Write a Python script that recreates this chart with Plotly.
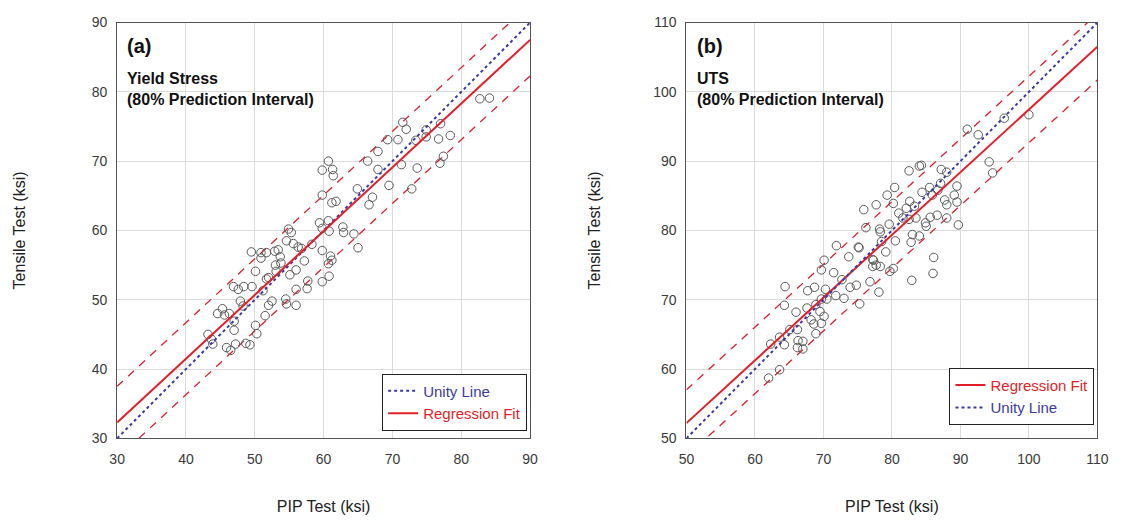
import plotly.graph_objects as go

# ---------------- data ----------------
# Panel (a): Yield Stress
ys_pip = [82.7, 84.1, 71.5, 72.0, 69.3, 70.8, 73.4, 74.9, 74.9, 77.0, 76.7, 78.4, 77.4, 76.9,
          71.3, 73.6, 69.5, 72.8, 60.7, 59.8, 61.3, 61.4, 66.4, 67.9, 67.9, 64.9, 59.8, 61.2,
          61.8, 67.1, 66.6, 59.4, 60.7, 59.8, 60.8, 62.8, 62.9, 64.4, 65.0, 54.9, 55.3, 54.6,
          55.6, 56.3, 56.8, 59.8, 61.0, 61.2, 60.7, 60.8, 59.8, 57.2, 56.0, 55.1, 57.7, 57.6,
          56.0, 54.5, 56.0, 54.6, 49.5, 50.9, 51.7, 50.9, 53.4, 53.7, 53.8, 50.1, 53.1, 51.7,
          52.0, 46.9, 47.6, 48.4, 49.6, 51.2, 47.9, 52.0, 52.5, 45.3, 44.6, 45.6, 46.3, 48.3,
          51.5, 47.0, 47.0, 50.1, 50.3, 43.2, 43.7, 43.9, 45.9, 46.5, 47.2, 48.7, 49.3, 52.9,
          58.3, 53.0]
ys_tens = [79.0, 79.1, 75.6, 74.6, 73.1, 73.1, 73.0, 74.5, 73.5, 75.4, 73.2, 73.7, 70.7, 69.7,
           69.5, 69.0, 66.5, 66.0, 70.0, 68.7, 68.8, 67.9, 70.0, 71.4, 68.8, 66.0, 65.1, 64.0,
           64.2, 64.8, 63.7, 61.1, 61.4, 60.3, 59.9, 60.5, 59.7, 59.5, 57.5, 60.2, 59.7, 58.5,
           58.1, 57.6, 57.4, 57.1, 56.3, 55.7, 55.2, 53.4, 52.6, 55.6, 54.3, 53.6, 52.7, 51.6,
           51.5, 50.1, 49.2, 49.4, 56.9, 56.8, 56.8, 56.0, 57.2, 56.2, 55.3, 54.1, 54.1, 53.0,
           53.2, 51.9, 51.5, 51.9, 51.9, 51.3, 49.8, 49.2, 49.8, 48.7, 48.0, 47.8, 48.0, 49.1,
           47.7, 46.9, 45.6, 46.3, 45.1, 45.0, 44.3, 43.6, 43.1, 42.7, 43.6, 43.7, 43.5, 57.0,
           58.0, 55.0]

# Panel (b): UTS
uts_pip = [100.0, 96.4, 91.0, 92.6, 94.2, 94.7, 84.0, 84.3, 82.5, 87.2, 88.0, 80.4, 79.3, 77.7,
           75.9, 80.2, 82.6, 84.4, 85.5, 86.7, 89.5, 89.1, 87.7, 88.0, 89.5, 85.9, 82.1, 81.6,
           82.5, 83.5, 84.9, 85.6, 86.6, 88.0, 89.7, 85.0, 79.6, 78.2, 76.2, 83.0, 84.0, 82.8,
           80.5, 78.5, 75.1, 71.9, 73.7, 70.1, 77.3, 79.1, 86.1, 86.0, 82.9, 78.3, 75.2, 77.2,
           77.7, 77.2, 78.3, 79.7, 80.2, 76.8, 78.1, 69.7, 71.5, 72.7, 68.7, 67.7, 70.3, 69.7,
           70.5, 71.8, 73.0, 73.9, 74.8, 75.3, 64.4, 64.3, 66.0, 67.6, 68.9, 69.5, 70.1, 68.2,
           68.6, 69.7, 68.9, 66.2, 65.1, 63.6, 64.3, 62.3, 66.3, 67.0, 66.2, 67.0, 63.6, 62.0,
           81.0, 83.3, 87.1]
uts_tens = [96.7, 96.2, 94.6, 93.8, 89.9, 88.3, 89.3, 89.4, 88.6, 88.8, 88.4, 86.2, 85.1, 83.7,
            83.0, 83.9, 84.2, 85.5, 86.2, 85.8, 86.4, 85.1, 84.4, 83.7, 84.1, 85.1, 83.2, 81.8,
            81.6, 81.8, 81.1, 81.9, 82.2, 81.8, 80.8, 80.6, 80.9, 80.2, 80.4, 79.4, 79.2, 78.3,
            78.5, 78.4, 77.6, 77.8, 76.2, 75.7, 75.7, 76.9, 76.1, 73.8, 72.8, 79.8, 77.5, 75.8,
            75.0, 74.8, 74.8, 74.1, 74.5, 72.6, 71.1, 74.3, 73.9, 72.9, 71.8, 71.3, 71.5, 70.1,
            70.1, 70.6, 70.2, 71.8, 72.1, 69.4, 71.9, 69.2, 68.2, 68.8, 69.3, 68.3, 67.6, 67.1,
            66.5, 66.6, 65.1, 65.7, 65.7, 64.6, 63.5, 63.6, 64.1, 64.0, 63.1, 62.9, 59.9, 58.7,
            82.5, 83.5, 86.8]

# fitted lines (intercept, slope, 80% prediction half-width)
ys_range = [30, 90]
ys_fit = (4.7, 0.92, 5.2)
uts_range = [50, 110]
uts_fit = (6.95, 0.905, 4.8)

tick_a = [30, 40, 50, 60, 70, 80, 90]
tick_b = [50, 60, 70, 80, 90, 100, 110]

# ---------------- figure ----------------
RED = "#e61e28"
BLUE = "#3b3ba6"
FONT = "Arial, Liberation Sans, sans-serif"
W, H = 1133, 520

fig = go.Figure()


def add_panel(xs, ys, rng, fit, xa, ya, leg, order):
    b0, b1, hw = fit
    lx = [rng[0], rng[1]]
    reg = [b0 + b1 * v for v in lx]
    up = [r + hw for r in reg]
    lo = [r - hw for r in reg]
    for band in (up, lo):
        fig.add_trace(go.Scatter(x=lx, y=band, mode="lines", xaxis=xa, yaxis=ya,
                                 line=dict(color=RED, width=1.3, dash="8px,7px"),
                                 showlegend=False, hoverinfo="skip"))
    fig.add_trace(go.Scatter(x=xs, y=ys, mode="markers", xaxis=xa, yaxis=ya,
                             marker=dict(symbol="circle-open", size=8.5,
                                         color="#5a5a5a", line=dict(width=1)),
                             showlegend=False))
    unity = go.Scatter(x=lx, y=lx, mode="lines", xaxis=xa, yaxis=ya, legend=leg,
                       name="<span style='color:%s'>Unity Line</span>" % BLUE,
                       line=dict(color=BLUE, width=2, dash="dot"))
    regr = go.Scatter(x=lx, y=reg, mode="lines", xaxis=xa, yaxis=ya, legend=leg,
                      name="<span style='color:%s'>Regression Fit</span>" % RED,
                      line=dict(color=RED, width=2))
    for t in (order == "unity" and (unity, regr) or (regr, unity)):
        fig.add_trace(t)


add_panel(ys_pip, ys_tens, ys_range, ys_fit, "x", "y", "legend", "unity")
add_panel(uts_pip, uts_tens, uts_range, uts_fit, "x2", "y2", "legend2", "reg")

ydom = [1 - 444 / H, 1 - 15 / H]
axis_common = dict(showgrid=True, gridcolor="#dcdcdc", gridwidth=1,
                   showline=True, linecolor="#555555", linewidth=1, mirror=True,
                   zeroline=False, ticks="", tickfont=dict(size=14, color="#3a3a3a", family=FONT),
                   title_font=dict(size=16, color="#222222", family=FONT))

fig.update_layout(
    width=W, height=H,
    margin=dict(l=0, r=0, t=0, b=0),
    paper_bgcolor="white", plot_bgcolor="white",
    font=dict(family=FONT),
    xaxis=dict(domain=[111 / W, 531 / W], range=ys_range, tickvals=tick_a, ticklabelstandoff=8,
               title=dict(text="PIP Test (ksi)", standoff=34), anchor="y", **axis_common),
    yaxis=dict(domain=ydom, range=ys_range, tickvals=tick_a, ticklabelstandoff=6,
               title=dict(text="Tensile Test (ksi)", standoff=62), anchor="x", **axis_common),
    xaxis2=dict(domain=[690 / W, 1108 / W], range=uts_range, tickvals=tick_b, ticklabelstandoff=8,
                title=dict(text="PIP Test (ksi)", standoff=34), anchor="y2", **axis_common),
    yaxis2=dict(domain=ydom, range=uts_range, tickvals=tick_b, ticklabelstandoff=6,
                title=dict(text="Tensile Test (ksi)", standoff=48), anchor="x2", **axis_common),
    legend=dict(x=528 / W, y=1 - 436 / H, xanchor="right", yanchor="bottom",
                bgcolor="white", bordercolor="#222222", borderwidth=1,
                font=dict(size=15, family=FONT), tracegroupgap=4),
    legend2=dict(x=1105 / W, y=1 - 430 / H, xanchor="right", yanchor="bottom",
                 bgcolor="white", bordercolor="#222222", borderwidth=1,
                 font=dict(size=15, family=FONT), tracegroupgap=4),
)

labels = [("x domain", "y domain", "<b>(a)</b>", 0.975, 20),
          ("x domain", "y domain", "<b>Yield Stress<br>(80% Prediction Interval)</b>", 0.89, 16),
          ("x2 domain", "y2 domain", "<b>(b)</b>", 0.975, 20),
          ("x2 domain", "y2 domain", "<b>UTS<br>(80% Prediction Interval)</b>", 0.89, 16)]
for xr, yr, txt, yy, fs in labels:
    fig.add_annotation(xref=xr, yref=yr, x=0.02, y=yy, text=txt, showarrow=False,
                       xanchor="left", yanchor="top", align="left",
                       font=dict(size=fs, color="#111111", family=FONT))

fig.write_html("out.html")
